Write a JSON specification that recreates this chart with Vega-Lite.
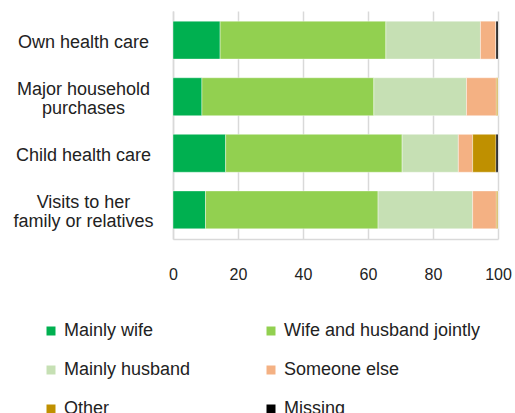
{
  "$schema": "https://vega.github.io/schema/vega-lite/v6.json",
  "width": 325,
  "height": 228,
  "autosize": {"type": "none"},
  "padding": {"left": 173, "top": 11, "right": 17, "bottom": 174},
  "background": "white",
  "config": {
    "font": "Arial",
    "view": {"stroke": null}
  },
  "data": {
    "values": [
      {"item": "Own health care", "cat": "Mainly wife", "o": 1, "v": 14.5},
      {"item": "Own health care", "cat": "Wife and husband  jointly", "o": 2, "v": 51.0},
      {"item": "Own health care", "cat": "Mainly husband", "o": 3, "v": 29.1},
      {"item": "Own health care", "cat": "Someone else", "o": 4, "v": 4.8},
      {"item": "Own health care", "cat": "Other", "o": 5, "v": 0.0},
      {"item": "Own health care", "cat": "Missing", "o": 6, "v": 0.6},
      {"item": "Major household|purchases", "cat": "Mainly wife", "o": 1, "v": 8.9},
      {"item": "Major household|purchases", "cat": "Wife and husband  jointly", "o": 2, "v": 52.9},
      {"item": "Major household|purchases", "cat": "Mainly husband", "o": 3, "v": 28.5},
      {"item": "Major household|purchases", "cat": "Someone else", "o": 4, "v": 9.2},
      {"item": "Major household|purchases", "cat": "Other", "o": 5, "v": 0.5},
      {"item": "Major household|purchases", "cat": "Missing", "o": 6, "v": 0.0},
      {"item": "Child health care", "cat": "Mainly wife", "o": 1, "v": 16.2},
      {"item": "Child health care", "cat": "Wife and husband  jointly", "o": 2, "v": 54.3},
      {"item": "Child health care", "cat": "Mainly husband", "o": 3, "v": 17.3},
      {"item": "Child health care", "cat": "Someone else", "o": 4, "v": 4.4},
      {"item": "Child health care", "cat": "Other", "o": 5, "v": 7.2},
      {"item": "Child health care", "cat": "Missing", "o": 6, "v": 0.6},
      {"item": "Visits to her|family or relatives", "cat": "Mainly wife", "o": 1, "v": 10.0},
      {"item": "Visits to her|family or relatives", "cat": "Wife and husband  jointly", "o": 2, "v": 53.1},
      {"item": "Visits to her|family or relatives", "cat": "Mainly husband", "o": 3, "v": 29.1},
      {"item": "Visits to her|family or relatives", "cat": "Someone else", "o": 4, "v": 7.3},
      {"item": "Visits to her|family or relatives", "cat": "Other", "o": 5, "v": 0.5},
      {"item": "Visits to her|family or relatives", "cat": "Missing", "o": 6, "v": 0.0}
    ]
  },
  "mark": {"type": "bar", "stroke": "white", "strokeWidth": 0.4},
  "encoding": {
    "y": {
      "field": "item",
      "type": "nominal",
      "sort": ["Own health care", "Major household|purchases", "Child health care", "Visits to her|family or relatives"],
      "scale": {"paddingInner": 0.33, "paddingOuter": 0.18},
      "axis": {
        "title": null,
        "labelExpr": "split(datum.label, '|')",
        "labelAlign": "center",
        "labelPadding": 90,
        "labelLimit": 250,
        "labelFontSize": 18,
        "labelColor": "#222222",
        "labelLineHeight": 19,
        "labelOffset": {"condition": {"test": "indexof(datum.value, '|') >= 0", "value": -7}, "value": 2.5},
        "ticks": false,
        "domainColor": "#d9d9d9",
        "domainWidth": 1.5
      }
    },
    "x": {
      "field": "v",
      "type": "quantitative",
      "stack": "zero",
      "scale": {"domain": [0, 100], "nice": false},
      "axis": {
        "title": null,
        "values": [0, 20, 40, 60, 80, 100],
        "labelFontSize": 16,
        "labelFlush": false,
        "labelColor": "#222222",
        "labelPadding": 27,
        "ticks": false,
        "gridColor": "#d9d9d9",
        "gridWidth": 1.5,
        "domainColor": "#d9d9d9",
        "domainWidth": 1.5
      }
    },
    "order": {"field": "o", "type": "quantitative"},
    "color": {
      "field": "cat",
      "type": "nominal",
      "scale": {
        "domain": ["Mainly wife", "Wife and husband  jointly", "Mainly husband", "Someone else", "Other", "Missing"],
        "range": ["#00b050", "#92d050", "#c6e0b4", "#f4b183", "#bf9000", "#000000"]
      },
      "legend": {
        "title": null,
        "orient": "none",
        "legendX": -131,
        "legendY": 311,
        "columns": 2,
        "symbolType": "square",
        "symbolSize": 81,
        "symbolStrokeWidth": 0,
        "labelFontSize": 18,
        "labelColor": "#222222",
        "labelLimit": 300,
        "labelOffset": 4,
        "columnPadding": 71,
        "rowPadding": 21,
        "direction": "horizontal",
        "symbolOffset": 0
      }
    }
  }
}
